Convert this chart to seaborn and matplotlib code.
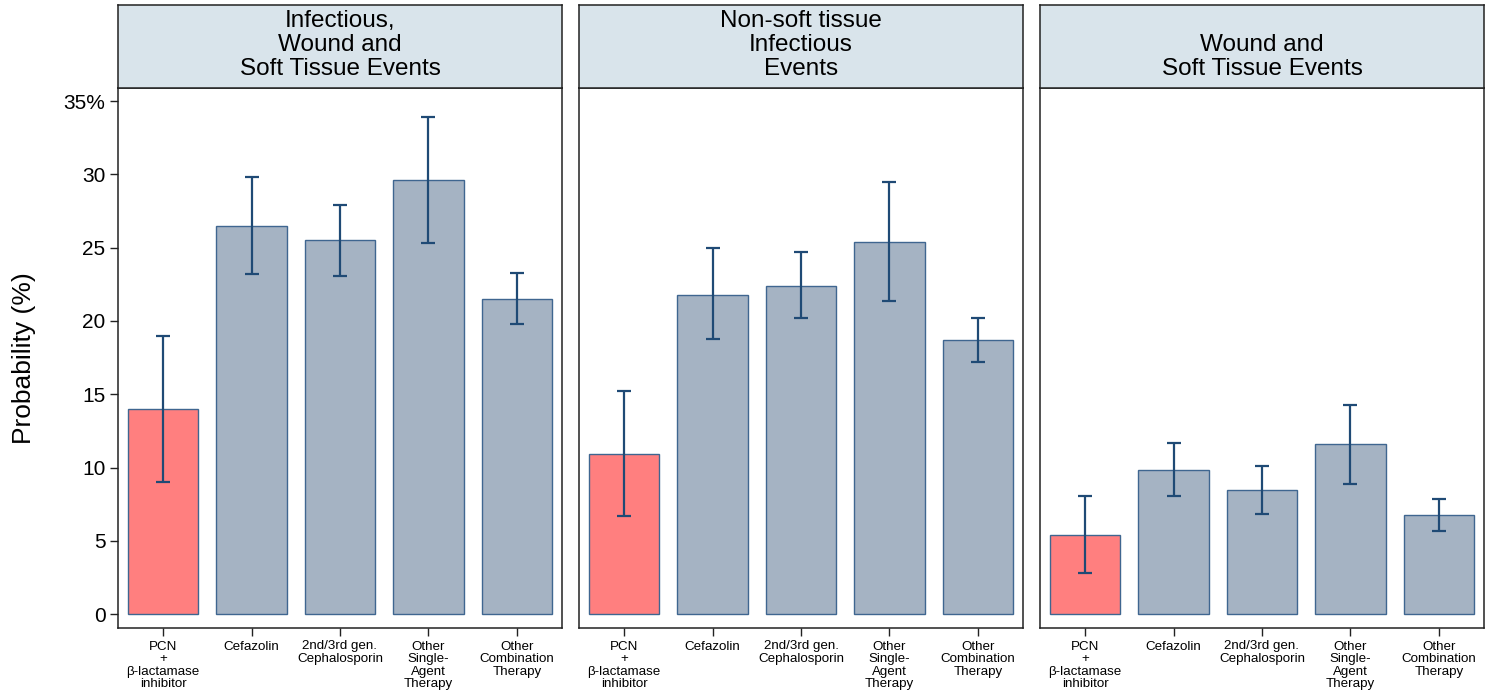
import numpy as np
import pandas as pd
import seaborn as sns
import matplotlib.pyplot as plt

# Categories and panel titles
categories = ['PCN\n+\nβ-lactamase\ninhibitor', 'Cefazolin', '2nd/3rd gen.\nCephalosporin',
              'Other\nSingle-\nAgent\nTherapy', 'Other\nCombination\nTherapy']
panel_titles = ['Infectious,\nWound and\nSoft Tissue Events',
                'Non-soft tissue\nInfectious\nEvents',
                'Wound and\nSoft Tissue Events']

# Probabilities (%) with confidence limits, one list per panel
prob_all = [14.0, 26.5, 25.5, 29.6, 21.5]
lower_all = [9.0, 23.2, 23.1, 25.3, 19.8]
upper_all = [19.0, 29.8, 27.9, 33.9, 23.3]

prob_nonsoft = [10.9, 21.8, 22.4, 25.4, 18.7]
lower_nonsoft = [6.7, 18.8, 20.2, 21.35, 17.2]
upper_nonsoft = [15.2, 25.0, 24.7, 29.5, 20.2]

prob_wound = [5.4, 9.8, 8.45, 11.6, 6.75]
lower_wound = [2.8, 8.05, 6.8, 8.9, 5.67]
upper_wound = [8.05, 11.65, 10.1, 14.25, 7.85]

yticks = [0, 5, 10, 15, 20, 25, 30, 35]
ytick_labels = ['0', '5', '10', '15', '20', '25', '30', '35%']

panels = [
    (prob_all, lower_all, upper_all),
    (prob_nonsoft, lower_nonsoft, upper_nonsoft),
    (prob_wound, lower_wound, upper_wound),
]

sns.set_style('white')
plt.rcParams['font.family'] = ['Liberation Sans', 'DejaVu Sans']
plt.rcParams['text.color'] = 'black'
plt.rcParams['xtick.color'] = 'black'
plt.rcParams['ytick.color'] = 'black'
plt.rcParams['axes.labelcolor'] = 'black'

bar_colors = ['#FF7F7F', '#A5B3C3', '#A5B3C3', '#A5B3C3', '#A5B3C3']
err_color = '#1F4A75'
edge_color = '#3F6690'

fig = plt.figure(figsize=(14.86, 6.98), dpi=100)

lefts = [118, 579, 1040]
W, H = 1486, 698
ax_w = 444 / W
ax_bottom = 1 - 628 / H
ax_h = (628 - 88) / H
strip_h = (88 - 5) / H

for i, (vals, lo, hi) in enumerate(panels):
    left = lefts[i] / W
    ax = fig.add_axes([left, ax_bottom, ax_w, ax_h])
    df = pd.DataFrame({'treatment': categories, 'prob': vals})
    sns.barplot(data=df, x='treatment', y='prob', hue='treatment', palette=bar_colors,
                saturation=1, legend=False, errorbar=None, width=0.8,
                edgecolor=edge_color, linewidth=1.0, ax=ax)

    centers = [p.get_x() + p.get_width() / 2 for p in ax.patches]
    vals = np.array(vals)
    yerr = [vals - np.array(lo), np.array(hi) - vals]
    ax.errorbar(centers, vals, yerr=yerr, fmt='none', ecolor=err_color,
                elinewidth=1.6, capsize=4.8, capthick=1.6)

    ax.set_xlim(-0.51, 4.51)
    ax.set_ylim(-0.95, 35.9)
    ax.set_xlabel('')
    ax.set_ylabel('')
    ax.tick_params(axis='x', labelsize=9.6, length=6, width=1, color='#222222', pad=3,
                   bottom=True)
    for lbl in ax.get_xticklabels():
        lbl.set_linespacing(1.06)
    if i == 0:
        ax.set_yticks(yticks)
        ax.set_yticklabels(ytick_labels)
        ax.tick_params(axis='y', labelsize=15, length=6, width=1, color='#222222',
                       left=True, pad=3)
        ax.set_ylabel('Probability (%)', fontsize=19, labelpad=20)
    else:
        ax.set_yticks([])
    for s in ax.spines.values():
        s.set_color('#222222')
        s.set_linewidth(1.1)

    # header strip
    sax = fig.add_axes([left, ax_bottom + ax_h, ax_w, strip_h])
    sax.set_facecolor('#D9E4EB')
    sax.set_xticks([])
    sax.set_yticks([])
    for s in sax.spines.values():
        s.set_color('#222222')
        s.set_linewidth(1.1)
    sax.text(0.5, 0.1, panel_titles[i], ha='center', va='bottom', fontsize=17.5,
             linespacing=1.1, transform=sax.transAxes)

fig.savefig('out.png', dpi=100)
